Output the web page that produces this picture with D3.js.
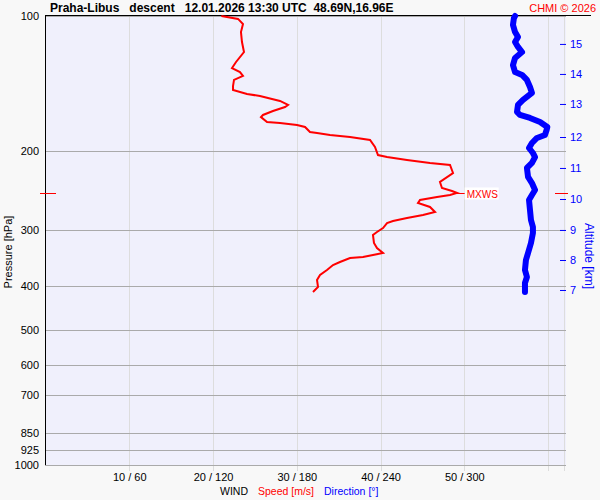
<!DOCTYPE html>
<html lang="en">
<head>
    <meta charset="UTF-8">
    <title>Praha-Libus descent</title>
    <script src="https://d3js.org/d3.v7.min.js"></script>
    <style>
        body { margin: 0; background: #f8f8f8; }
        svg { display: block; font-family: Arial, 'Liberation Sans', sans-serif; }
        .grid-h line { stroke: #aaa; stroke-width: 1; }
        .grid-v line { stroke: #ddd; stroke-width: 1; }
        .axis path { display: none; }
        .axis line { display: none; }
        .axis text { font-size: 11px; fill: #000; }
        .alt-axis line { display: inline; stroke: #00f; }
        .alt-axis text { fill: #00f; }
    </style>
</head>
<body>
<svg width="600" height="500"></svg>
<script>
    // pressure gridlines (hPa)
    const pressureLevels = [100, 200, 300, 400, 500, 600, 700, 850, 925, 1000];
    // bottom ticks: speed [m/s] / direction [deg]
    const speedTicks = [10, 20, 30, 40, 50, 60];
    const dirTicks = [60, 120, 180, 240, 300, 360];
    // altitude ticks [km] and pressure where they sit
    const altTicks = [7, 8, 9, 10, 11, 12, 13, 14, 15];
    const altTickP = [407.6, 349.5, 299.6, 255.6, 218.0, 186.0, 157.0, 134.6, 115.4];

    // wind speed profile
    const speedP = [100, 101.5, 104.2, 108.6, 114.3, 120.3, 126.6, 130.6, 133.3, 136.0, 138.8, 143.2, 146.1,
        149.2, 150.7, 153.1, 154.6, 157.8, 159.5, 162.8, 166.1, 167.9, 172.2, 173.1, 174.9, 176.7, 181.3,
        182.2, 184.1, 186.0, 188.8, 195.7, 204.0, 206.1, 209.3, 212.5, 214.7, 223.7, 234.2, 241.6, 245.3,
        247.8, 250.4, 253.0, 256.9, 260.9, 266.3, 273.2, 277.5, 281.8, 286.1, 289.1, 296.6, 302.7, 307.4,
        320.3, 328.6, 337.2, 340.6, 344.1, 345.9, 353.1, 358.6, 367.9, 377.4, 387.2, 401.4, 411.8];
    const speedVal = [21.0, 22.99, 23.58, 23.34, 23.46, 23.70, 22.75, 22.27, 23.22, 23.58, 22.51, 22.39, 22.39,
        24.06, 25.61, 27.04, 28.00, 28.96, 28.60, 27.16, 25.97, 25.73, 26.45, 28.00, 30.03, 30.99, 31.58,
        32.42, 33.97, 36.36, 38.75, 39.34, 39.70, 40.78, 43.16, 45.91, 48.30, 48.66, 47.10, 47.34, 48.54,
        49.13, 48.30, 46.75, 44.72, 44.48, 45.91, 46.51, 45.07, 43.16, 41.49, 40.78, 40.30, 39.58, 39.10,
        39.22, 39.58, 40.30, 39.10, 37.91, 36.36, 35.16, 34.33, 33.61, 32.78, 32.42, 32.54, 31.94];

    // wind direction profile
    const dirP = [100, 101.0, 104.7, 108.6, 111.4, 114.3, 117.2, 120.3, 124.0, 128.6, 133.3, 135.3, 138.8,
        143.9, 148.4, 153.8, 157.8, 163.6, 166.1, 168.7, 172.2, 176.7, 179.4, 184.1, 186.9, 191.8, 196.8,
        201.9, 206.1, 212.5, 218.0, 228.3, 235.5, 244.1, 250.4, 256.9, 270.4, 284.7, 295.1, 304.3, 320.3,
        337.2, 349.5, 367.9, 381.3, 393.2, 411.8];
    const dirVal = [336.4, 335.6, 334.9, 336.4, 338.5, 336.4, 338.5, 341.4, 336.4, 334.9, 336.4, 341.4, 344.9,
        347.1, 348.5, 342.1, 338.5, 337.8, 339.9, 347.1, 354.3, 359.5, 359.0, 357.8, 352.1, 348.5, 346.4,
        349.2, 350.7, 348.5, 344.9, 345.7, 348.5, 350.7, 348.5, 346.4, 347.1, 347.8, 349.2, 349.2, 347.8,
        345.7, 344.2, 343.5, 344.9, 343.5, 343.5];

    // max wind
    const mxwsP = 248;
    const mxwsSpeed = 49.1;

    const svg = d3.select('svg');
    const plotL = 45, plotR = 566, plotT = 16, plotB = 465;

    const y = d3.scaleLog().domain([100, 1000]).range([plotT, plotB]);
    const xSpeed = d3.scaleLinear().domain([0, 60]).range([45.5, 548]);
    const xDir = d3.scaleLinear().domain([0, 360]).range([45.5, 548]);

    svg.append('rect')
        .attr('x', plotL).attr('y', plotT)
        .attr('width', plotR - plotL).attr('height', plotB - plotT)
        .attr('fill', '#f0f0fc');

    svg.append('g').attr('class', 'grid-v')
        .selectAll('line')
        .data(speedTicks.concat([61.9]))
        .enter().append('line')
        .attr('x1', d => Math.round(xSpeed(d)) + 0.5)
        .attr('x2', d => Math.round(xSpeed(d)) + 0.5)
        .attr('y1', plotT).attr('y2', 471);

    svg.append('g').attr('class', 'grid-h')
        .selectAll('line')
        .data(pressureLevels)
        .enter().append('line')
        .attr('x1', plotL).attr('x2', plotR)
        .attr('y1', d => Math.round(y(d)) + 0.5)
        .attr('y2', d => Math.round(y(d)) + 0.5);

    // frame lines
    svg.append('line').attr('x1', 45.5).attr('x2', 45.5).attr('y1', 15).attr('y2', plotB)
        .attr('stroke', '#000');
    svg.append('line').attr('x1', 45).attr('x2', 591).attr('y1', 15.5).attr('y2', 15.5)
        .attr('stroke', '#000');

    // left axis
    svg.append('g').attr('class', 'axis')
        .attr('transform', `translate(${plotL},0)`)
        .call(d3.axisLeft(y).tickValues(pressureLevels).tickFormat(d3.format('d')).tickSize(0).tickPadding(6));

    // bottom axis
    svg.append('g').attr('class', 'axis')
        .attr('transform', 'translate(0,470)')
        .call(d3.axisBottom(xSpeed).tickValues(speedTicks.slice(0, 5))
            .tickFormat((d, i) => `${d} / ${dirTicks[i]}`).tickSize(0).tickPadding(3));

    // right altitude axis
    const altScale = d3.scaleOrdinal().domain(altTicks).range(altTickP.map(p => y(p)));
    const altAxis = svg.append('g').attr('class', 'axis alt-axis')
        .attr('transform', `translate(${plotR},0)`)
        .call(d3.axisRight(altScale).tickSize(0).tickPadding(4));
    altAxis.selectAll('.tick').append('line')
        .attr('x1', -6).attr('x2', 0)
        .attr('stroke', '#00f');

    // direction line
    const dirData = dirP.map((p, i) => [dirVal[i], p]);
    svg.append('path')
        .datum(dirData)
        .attr('fill', 'none')
        .attr('stroke', '#00f')
        .attr('stroke-width', 6)
        .attr('stroke-linejoin', 'round')
        .attr('stroke-linecap', 'round')
        .attr('d', d3.line().x(d => xDir(d[0])).y(d => y(d[1])));

    // speed line
    const speedData = speedP.map((p, i) => [speedVal[i], p]);
    svg.append('path')
        .datum(speedData)
        .attr('fill', 'none')
        .attr('stroke', '#f00')
        .attr('stroke-width', 2)
        .attr('d', d3.line().x(d => xSpeed(d[0])).y(d => y(d[1])));

    // MXWS markers
    const my = Math.round(y(mxwsP)) + 0.5;
    const mxws = svg.append('g').attr('stroke', '#ff0000').attr('shape-rendering', 'crispEdges');
    mxws.append('line').attr('x1', 40).attr('x2', 56).attr('y1', my).attr('y2', my);
    mxws.append('line').attr('x1', 555).attr('x2', 568).attr('y1', my).attr('y2', my);
    mxws.append('line').attr('x1', xSpeed(mxwsSpeed)).attr('x2', xSpeed(mxwsSpeed) + 8)
        .attr('y1', my).attr('y2', my);
    svg.append('rect').attr('x', xSpeed(mxwsSpeed) + 8).attr('y', my - 6)
        .attr('width', 34).attr('height', 12).attr('fill', '#fff');
    svg.append('text').attr('x', xSpeed(mxwsSpeed) + 10).attr('y', my + 4)
        .attr('font-size', 10).attr('fill', '#f00').text('MXWS');

    // title
    svg.append('text').attr('x', 50).attr('y', 12)
        .attr('font-size', 12).attr('font-weight', 'bold')
        .style('white-space', 'pre')
        .text('Praha-Libus   descent   12.01.2026 13:30 UTC  48.69N,16.96E');
    svg.append('text').attr('x', 596).attr('y', 12)
        .attr('font-size', 11).attr('fill', '#f00').attr('text-anchor', 'end')
        .text('CHMI \u00a9 2026');

    // axis titles
    svg.append('text')
        .attr('transform', 'translate(12,252) rotate(-90)')
        .attr('text-anchor', 'middle').attr('font-size', 11)
        .text('Pressure [hPa]');
    svg.append('text')
        .attr('transform', 'translate(585,256) rotate(90)')
        .attr('text-anchor', 'middle').attr('font-size', 12).attr('fill', '#00f')
        .text('Altitude [km]');

    const legend = svg.append('text').attr('x', 220).attr('y', 495).attr('font-size', 10.5);
    legend.append('tspan').attr('fill', '#000').text('WIND');
    legend.append('tspan').attr('dx', 10).attr('fill', '#f00').text('Speed [m/s]');
    legend.append('tspan').attr('dx', 10).attr('fill', '#00f').text('Direction [\u00b0]');
</script>
</body>
</html>
